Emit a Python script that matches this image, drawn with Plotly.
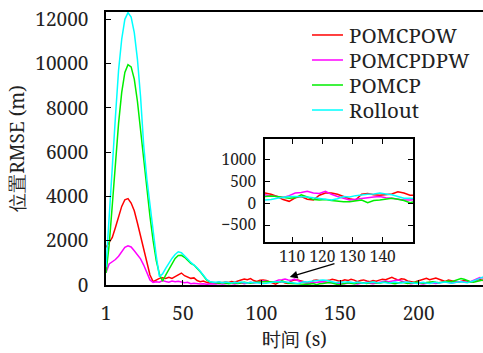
import plotly.graph_objects as go

# time axis (s), sampled every 2 s
t = list(range(1, 242, 2))

pomcpow = [1700, 1900, 2150, 2600, 3100, 3550, 3850, 3900, 3700, 3350, 2800, 2200, 1600, 1050, 450, 150, 220, 300, 330, 300, 350, 300, 380, 480, 540, 420, 350, 300, 320, 200, 150, 180, 120, 80, 100,
           90, 120, 100, 140, 110, 160, 130, 180, 220, 270, 240, 290, 200, 160, 210,
           230, 200, 150, 80, 40, 120, 150, 90, 70, 180, 230, 230, 200, 150, 100, 70, 200, 220, 190, 180, 190, 210, 260, 230, 180,
           180, 240, 200, 260, 220, 150, 200, 230, 180, 150, 200, 170, 220, 260, 240, 300, 350, 280, 220, 280, 260, 180, 150, 120, 170, 220, 260, 300, 240, 280, 310, 260, 200, 160, 220, 190, 150, 120, 160, 200, 180, 140, 180, 220, 250, 200]
pomcpdpw = [550, 950, 1050, 1150, 1300, 1500, 1700, 1770, 1720, 1550, 1350, 1180, 900, 550, 230, 120, 150, 130, 200, 160, 130, 180, 150, 170, 150, 100, 120, 60, 80, 50, 40, 60, 30, 50, 40,
            50, 70, 40, 60, 90, 70, 50, 80, 100, 60, 80, 120, 90, 110, 150,
            190, 160, 150, 130, 170, 230, 240, 270, 230, 220, 270, 200, 150, 110, 70, 90, 110, 130, 140, 150, 120, 110, 90, 70, 70,
            80, 60, 90, 110, 70, 50, 80, 100, 120, 80, 60, 90, 110, 140, 180, 150, 170, 200, 230, 180, 120, 90, 60, 80, 100, 70, 50, 80, 110, 90, 70, 100, 130, 150, 120, 90, 110, 130, 160, 140, 120, 150, 220, 300, 340, 320]
pomcp = [540, 1800, 3600, 5500, 7300, 8700, 9600, 9950, 9850, 9300, 8300, 7000, 5600, 4300, 3100, 2000, 1100, 500, 170, 450, 700, 950, 1200, 1330, 1340, 1250, 1100, 980, 900, 760, 600, 420, 230, 140, 110,
         100, 80, 110, 90, 60, 80, 100, 70, 90, 120, 100, 80, 110, 130, 150,
         150, 160, 150, 130, 110, 120, 190, 140, 80, 70, 80, 60, 40, 30, 30, 50, 70, 10, 60, 70, 90, 110, 90, 60, 10,
         40, 70, 100, 80, 60, 90, 110, 90, 70, 100, 120, 90, 80, 110, 130, 100, 80, 60, 90, 120, 100, 70, 90, 110, 130, 100, 80, 110, 130, 150, 120, 100, 130, 160, 180, 150, 200, 250, 290, 260, 200, 150, 120, 160, 200, 230]
rollout = [800, 3300, 5300, 7600, 9700, 11100, 12000, 12300, 12100, 11400, 10200, 8500, 6300, 4800, 3600, 2400, 1300, 380, 500, 750, 1000, 1200, 1380, 1500, 1460, 1330, 1170, 1020, 920, 780, 620, 430, 260, 160, 120,
           120, 150, 100, 130, 110, 90, 120, 100, 140, 110, 90, 120, 100, 80, 60,
           70, 80, 110, 130, 150, 150, 150, 140, 120, 110, 90, 70, 100, 150, 140, 170, 190, 200, 210, 230, 210, 190, 150, 110, 110,
           100, 130, 150, 120, 100, 130, 110, 80, 100, 120, 140, 110, 90, 120, 100, 80, 110, 130, 100, 90, 120, 140, 110, 90, 70, 100, 120, 90, 70, 100, 120, 90, 110, 130, 100, 80, 110, 130, 150, 120, 100, 140, 180, 240, 300, 360]

names = ["POMCPOW", "POMCPDPW", "POMCP", "Rollout"]
values = [pomcpow, pomcpdpw, pomcp, rollout]
colors = ["#ff0000", "#ff00ff", "#00ee00", "#00ffff"]

x_ticks = [1, 50, 100, 150, 200]
y_ticks = [0, 2000, 4000, 6000, 8000, 10000, 12000]
inset_x_ticks = [110, 120, 130, 140]
inset_y_ticks = [-500, 0, 500, 1000]

FONT = "Noto Serif"
f_main = dict(family=FONT, size=19, color="#222222")
f_inset = dict(family=FONT, size=15.5, color="#222222")
f_leg = dict(family=FONT, size=20.5, color="#222222")

fig = go.Figure()
for name, vals, col in zip(names, values, colors):
    assert len(vals) == len(t), (name, len(vals))
    fig.add_trace(go.Scatter(x=t, y=vals, mode="lines", name=name, showlegend=False,
                             line=dict(color=col, width=1.5)))
for name, vals, col in zip(names, values, colors):
    fig.add_trace(go.Scatter(x=t, y=vals, mode="lines", name=name, showlegend=False,
                             line=dict(color=col, width=1.5), xaxis="x2", yaxis="y2"))

# manual legend (samples + labels) in paper coordinates
leg_x0, leg_x1, leg_tx = 0.5464, 0.6286, 0.6393
leg_y = [0.9158, 0.8242, 0.7326, 0.6410]
shapes = []
annotations = []
for name, col, yy in zip(names, colors, leg_y):
    shapes.append(dict(type="line", xref="paper", yref="paper", x0=leg_x0, x1=leg_x1, y0=yy, y1=yy,
                       line=dict(color=col, width=1.5)))
    annotations.append(dict(xref="paper", yref="paper", x=leg_tx, y=yy, xanchor="left", yanchor="middle",
                            text=name, showarrow=False, font=f_leg))

annotations.append(dict(x=118, y=360, ax=147.4, ay=990, xref="x", yref="y", axref="x", ayref="y",
                        showarrow=True, arrowhead=2, arrowsize=1.2, arrowwidth=1.3, arrowcolor="black", text=""))

axis_common = dict(showgrid=False, zeroline=False, showline=True, linecolor="black",
                   linewidth=1.5, ticks="inside", ticklen=5, tickcolor="black", tickwidth=1.2)

fig.update_layout(
    width=483, height=353,
    margin=dict(l=106, r=0, t=12, b=68),
    paper_bgcolor="white", plot_bgcolor="white",
    showlegend=False,
    xaxis=dict(range=[1, 241], tickvals=x_ticks, mirror=True, tickfont=f_main,
               title=dict(text="时间 (s)", standoff=8, font=f_main), ticklabelstandoff=10, **axis_common),
    yaxis=dict(range=[0, 12330], tickvals=y_ticks, tickformat="d", tickfont=f_main,
               title=dict(text="位置RMSE (m)", standoff=6, font=f_main), ticklabelstandoff=12, **axis_common),
    xaxis2=dict(domain=[0.4218, 0.8143], anchor="y2", range=[101, 150], tickvals=inset_x_ticks,
                mirror="ticks", tickfont=f_inset, ticklabelstandoff=0, **axis_common),
    yaxis2=dict(domain=[0.1586, 0.533], anchor="x2", range=[-880, 1450], tickvals=inset_y_ticks,
                mirror="ticks", tickfont=f_inset, ticklabelstandoff=4,
                tickformat="d", **axis_common),
    shapes=shapes,
    annotations=annotations,
)

fig.write_html("out.html")
